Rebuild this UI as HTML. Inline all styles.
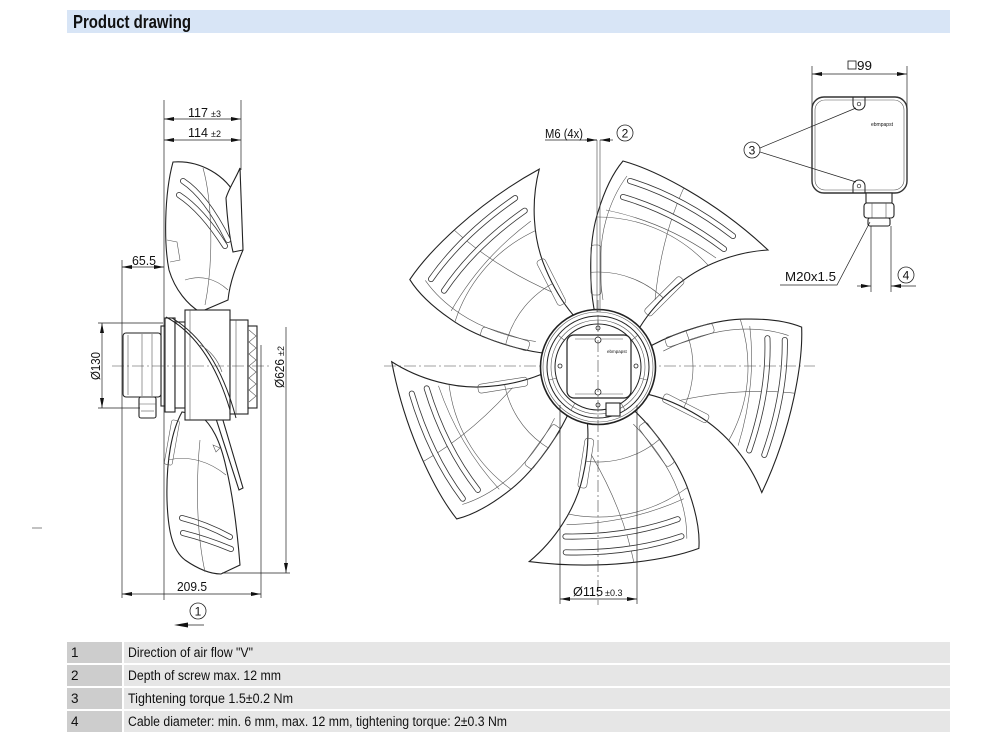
<!DOCTYPE html>
<html><head><meta charset="utf-8"><style>
html,body{margin:0;padding:0;background:#fff;}
svg{display:block;}
text{font-family:"Liberation Sans",Arial,sans-serif;fill:#111;}
.o{fill:#fff;stroke:#222;stroke-width:1.1;}
.n{fill:none;stroke:#222;stroke-width:1;}
.t{fill:none;stroke:#555;stroke-width:.6;}
.d{fill:none;stroke:#222;stroke-width:.7;}
.c{fill:none;stroke:#444;stroke-width:.6;stroke-dasharray:12 3 2 3;}
</style></head><body>
<svg width="1000" height="750" viewBox="0 0 1000 750" xmlns="http://www.w3.org/2000/svg">
<defs>
<marker id="ar" viewBox="0 0 10 4" refX="10" refY="2" markerWidth="10" markerHeight="4" markerUnits="userSpaceOnUse" orient="auto-start-reverse"><path d="M0,0L10,2L0,4z" fill="#111"/></marker>
<clipPath id="bc"><path d="M594,309 C589,280 589,240 598,212 C604,192 612,174 623,161 C655,170 715,200 768,250 C735,252 700,265 675,287 C660,300 648,314 640,327 Z"/></clipPath>
<g id="blade">
 <path class="o" d="M594,309 C589,280 589,240 598,212 C604,192 612,174 623,161 C655,170 715,200 768,250 C735,252 700,265 675,287 C660,300 648,314 640,327 Z"/>
 <g clip-path="url(#bc)">
  <circle class="t" cx="598" cy="367" r="95"/>
  <circle class="t" cx="598" cy="367" r="150"/>
  <path class="t" d="M606,210 Q665,222 716,258"/>
  <path class="t" d="M603,300 C599,275 599,245 606,220 C611,202 618,188 627,176"/>
  <path class="t" d="M690,175 C672,210 660,250 655,300"/>
 </g>
 <path d="M630,181 Q682,197 733,236" fill="none" stroke="#333" stroke-width="6" stroke-linecap="round"/>
 <path d="M630,181 Q682,197 733,236" fill="none" stroke="#fff" stroke-width="4.4" stroke-linecap="round"/>
 <path d="M623,197 Q675,212 724,249" fill="none" stroke="#333" stroke-width="6" stroke-linecap="round"/>
 <path d="M623,197 Q675,212 724,249" fill="none" stroke="#fff" stroke-width="4.4" stroke-linecap="round"/>
 <rect class="t" x="591" y="245" width="10" height="50" rx="3"/>
 <rect class="t" x="639" y="292" width="50" height="9" rx="3" transform="rotate(-45 664 296)"/>
</g>
</defs>

<!-- header -->
<rect x="67" y="10" width="883" height="23" fill="#d8e5f6"/>
<text x="73" y="28" font-size="18" font-weight="bold" textLength="118" lengthAdjust="spacingAndGlyphs">Product drawing</text>

<!-- ================= SIDE VIEW ================= -->
<path class="o" d="M173,162 C200,160 226,175 237,198 C241,215 242,235 243,250 C238,262 230,280 228,300 L200,312 C188,305 175,290 169,270 C164,245 164,195 173,162 Z"/>
<path class="o" d="M240,168 C236,178 229,188 226,198 C227,215 229,235 233,252 L243,250 C242,220 241,190 240,168 Z"/>
<path d="M183,181 Q206,196 228,240" fill="none" stroke="#333" stroke-width="6" stroke-linecap="round"/>
<path d="M183,181 Q206,196 228,240" fill="none" stroke="#fff" stroke-width="4.4" stroke-linecap="round"/>
<path d="M179,195 Q202,210 225,246" fill="none" stroke="#333" stroke-width="6" stroke-linecap="round"/>
<path d="M179,195 Q202,210 225,246" fill="none" stroke="#fff" stroke-width="4.4" stroke-linecap="round"/>
<path class="t" d="M203,168 C212,200 214,260 205,305"/>
<path class="t" d="M167,240 L177,242 L180,260 L170,262"/>
<path class="t" d="M185,280 C200,275 215,278 228,290"/>
<path class="o" d="M182,412 C172,430 166,460 167,500 C168,530 172,550 185,560 C198,569 210,574 221,574 L240,565 C238,540 234,500 226,467 C220,440 212,425 200,415 Z"/>
<path d="M182,518 Q206,524 230,537" fill="none" stroke="#333" stroke-width="6" stroke-linecap="round"/>
<path d="M182,518 Q206,524 230,537" fill="none" stroke="#fff" stroke-width="4.4" stroke-linecap="round"/>
<path d="M183,533 Q207,539 231,549" fill="none" stroke="#333" stroke-width="6" stroke-linecap="round"/>
<path d="M183,533 Q207,539 231,549" fill="none" stroke="#fff" stroke-width="4.4" stroke-linecap="round"/>
<path class="t" d="M168,460 C190,455 210,462 226,475"/>
<path class="t" d="M200,440 C196,480 196,530 205,572"/>
<rect class="t" x="168" y="420" width="8" height="45" rx="2" transform="rotate(10 172 442)"/>
<path class="o" d="M210,400 L217,400 L243,488 L239,490 Z"/>
<path class="t" d="M213,445 L220,448 L216,452 Z"/>
<rect class="o" x="161" y="326" width="5" height="80"/>
<rect class="o" x="123" y="333" width="38" height="64" rx="3"/>
<line class="t" x1="128" y1="335" x2="128" y2="395"/>
<line class="t" x1="142" y1="334" x2="142" y2="396"/>
<line class="t" x1="152" y1="334" x2="152" y2="396"/>
<rect class="o" x="139" y="397" width="17" height="21" rx="2"/>
<line class="t" x1="139" y1="404" x2="156" y2="404"/>
<line class="t" x1="141" y1="411" x2="154" y2="411"/>
<rect class="o" x="165" y="318" width="10" height="94"/>
<rect class="o" x="175" y="322" width="10" height="86"/>
<rect class="o" x="185" y="310" width="45" height="110"/>
<line class="t" x1="190" y1="310" x2="190" y2="420"/>
<rect class="o" x="230" y="320" width="18" height="94"/>
<line class="t" x1="236" y1="320" x2="236" y2="414"/>
<rect class="o" x="248" y="326" width="9" height="82"/>
<path class="t" d="M249,330 L256,336 L249,342 L256,348 L249,354 L256,360 L249,366 L256,372 L249,378 L256,384 L249,390 L256,396 L249,402"/>
<path class="n" d="M166,317 C190,330 214,356 230,410" stroke-width="1.6"/>
<path class="n" d="M172,318 C200,335 222,365 236,418"/>
<path class="t" d="M200,345 C210,350 218,360 222,372"/>
<line class="c" x1="112" y1="366" x2="272" y2="366"/>
<line class="d" x1="164" y1="100" x2="164" y2="600"/>
<line class="d" x1="241" y1="100" x2="241" y2="170"/>
<line class="d" x1="164" y1="119" x2="241" y2="119" marker-start="url(#ar)" marker-end="url(#ar)"/>
<text x="188" y="117" font-size="13" textLength="20" lengthAdjust="spacingAndGlyphs">117</text>
<text x="211" y="117" font-size="9">±3</text>
<line class="d" x1="164" y1="140" x2="241" y2="140" marker-start="url(#ar)" marker-end="url(#ar)"/>
<text x="188" y="137" font-size="13" textLength="20" lengthAdjust="spacingAndGlyphs">114</text>
<text x="211" y="137" font-size="9">±2</text>
<line class="d" x1="122" y1="260" x2="122" y2="598"/>
<line class="d" x1="122" y1="267" x2="164" y2="267" marker-start="url(#ar)" marker-end="url(#ar)"/>
<text x="132" y="265" font-size="13" textLength="24" lengthAdjust="spacingAndGlyphs">65.5</text>
<line class="d" x1="98" y1="323" x2="163" y2="323"/>
<line class="d" x1="98" y1="408" x2="140" y2="408"/>
<line class="d" x1="102" y1="323" x2="102" y2="408" marker-start="url(#ar)" marker-end="url(#ar)"/>
<text x="100" y="366" font-size="13" text-anchor="middle" transform="rotate(-90 100 366)" textLength="28" lengthAdjust="spacingAndGlyphs">Ø130</text>
<line class="d" x1="286" y1="327" x2="286" y2="573" marker-end="url(#ar)"/>
<line class="d" x1="222" y1="573" x2="290" y2="573"/>
<text x="284" y="388" font-size="13" transform="rotate(-90 284 388)" textLength="29" lengthAdjust="spacingAndGlyphs">Ø626</text>
<text x="284" y="356" font-size="9" transform="rotate(-90 284 356)">±2</text>
<line class="d" x1="261" y1="345" x2="261" y2="598"/>
<line class="d" x1="122" y1="594" x2="261" y2="594" marker-start="url(#ar)" marker-end="url(#ar)"/>
<text x="177" y="591" font-size="13" textLength="30" lengthAdjust="spacingAndGlyphs">209.5</text>
<circle cx="198" cy="611" r="8" fill="#fff" stroke="#222" stroke-width=".8"/>
<text x="198" y="615.5" font-size="12" text-anchor="middle">1</text>
<line x1="186" y1="625" x2="204" y2="625" stroke="#222" stroke-width=".8"/>
<path d="M174,625 L188,622.5 L188,627.5 Z" fill="#111"/>
<line x1="32" y1="528" x2="42" y2="528" stroke="#666" stroke-width=".8"/>

<!-- ================= FRONT VIEW ================= -->
<use href="#blade"/>
<use href="#blade" transform="rotate(72 598 367)"/>
<use href="#blade" transform="rotate(144 598 367)"/>
<use href="#blade" transform="rotate(216 598 367)"/>
<use href="#blade" transform="rotate(288 598 367)"/>
<line class="c" x1="384" y1="366" x2="815" y2="366"/>
<circle cx="598" cy="367" r="57.5" fill="#fff" stroke="#222" stroke-width="1.6"/>
<circle class="t" cx="598" cy="367" r="55"/>
<circle class="n" cx="598" cy="367" r="51" stroke-width="1.2"/>
<circle class="t" cx="598" cy="367" r="47"/>
<circle class="n" cx="598" cy="367" r="43"/>
<g class="t">
<line x1="598" y1="316" x2="598" y2="324"/>
<line x1="638" y1="335" x2="632" y2="340"/>
<line x1="647" y1="380" x2="639" y2="378"/>
<line x1="625" y1="410" x2="621" y2="403"/>
<line x1="571" y1="410" x2="575" y2="403"/>
<line x1="549" y1="380" x2="557" y2="378"/>
<line x1="558" y1="335" x2="564" y2="340"/>
</g>
<rect x="567" y="335" width="64" height="63" rx="7" fill="#fff" stroke="#222" stroke-width="1.2"/>
<line class="t" x1="575" y1="339" x2="623" y2="339"/>
<line class="t" x1="575" y1="394" x2="623" y2="394"/>
<circle cx="598" cy="340" r="3" fill="#fff" stroke="#222" stroke-width=".8"/>
<circle cx="598" cy="392" r="3" fill="#fff" stroke="#222" stroke-width=".8"/>
<circle cx="598" cy="328" r="2" fill="#fff" stroke="#222" stroke-width=".8"/>
<circle cx="598" cy="405" r="2" fill="#fff" stroke="#222" stroke-width=".8"/>
<circle cx="560" cy="366" r="2" fill="#fff" stroke="#222" stroke-width=".8"/>
<circle cx="636" cy="366" r="2" fill="#fff" stroke="#222" stroke-width=".8"/>
<rect class="o" x="606" y="403" width="14" height="13" stroke-width=".8"/>
<text x="607" y="353" font-size="4.5" fill="#333">ebmpapst</text>
<line class="c" x1="598" y1="300" x2="598" y2="605"/>
<line x1="597" y1="140" x2="597" y2="312" stroke="#444" stroke-width=".6"/>
<line x1="600" y1="140" x2="600" y2="312" stroke="#444" stroke-width=".6"/>
<line class="d" x1="545" y1="140" x2="597" y2="140"/>
<line class="d" x1="585" y1="140" x2="597" y2="140" marker-end="url(#ar)"/>
<line class="d" x1="613" y1="140" x2="600" y2="140" marker-end="url(#ar)"/>
<text x="545" y="138" font-size="13" textLength="38" lengthAdjust="spacingAndGlyphs">M6 (4x)</text>
<circle cx="625" cy="133" r="8" fill="#fff" stroke="#222" stroke-width=".8"/>
<text x="625" y="137.5" font-size="12" text-anchor="middle">2</text>
<line class="d" x1="560" y1="405" x2="560" y2="604"/>
<line class="d" x1="637" y1="405" x2="637" y2="604"/>
<line class="d" x1="560" y1="599" x2="637" y2="599" marker-start="url(#ar)" marker-end="url(#ar)"/>
<text x="573" y="596" font-size="13" textLength="30" lengthAdjust="spacingAndGlyphs">Ø115</text>
<text x="605" y="596" font-size="9">±0.3</text>

<!-- ================= TERMINAL BOX ================= -->
<line class="d" x1="812" y1="66" x2="812" y2="150"/>
<line class="d" x1="907" y1="66" x2="907" y2="150"/>
<line class="d" x1="812" y1="74" x2="907" y2="74" marker-start="url(#ar)" marker-end="url(#ar)"/>
<rect x="848" y="61" width="8" height="8" fill="none" stroke="#111" stroke-width=".8"/>
<text x="857" y="70" font-size="13" textLength="15" lengthAdjust="spacingAndGlyphs">99</text>
<rect x="812" y="97" width="95" height="96" rx="12" fill="#fff" stroke="#333" stroke-width="1.4"/>
<rect class="t" x="815" y="100" width="89" height="90" rx="10"/>
<path class="n" d="M853,97 L853,104 A6,6 0 0 0 865,104 L865,97" stroke-width=".8"/>
<circle cx="859" cy="104" r="1.8" fill="none" stroke="#222" stroke-width=".7"/>
<path class="n" d="M853,193 L853,186 A6,6 0 0 1 865,186 L865,193" stroke-width=".8"/>
<circle cx="859" cy="186" r="1.8" fill="none" stroke="#222" stroke-width=".7"/>
<text x="871" y="126" font-size="5" fill="#333">ebmpapst</text>
<circle cx="752" cy="150" r="8" fill="#fff" stroke="#222" stroke-width=".8"/>
<text x="752" y="154.5" font-size="12" text-anchor="middle">3</text>
<line class="d" x1="760" y1="148" x2="856" y2="108"/>
<line class="d" x1="760" y1="152" x2="856" y2="182"/>
<rect class="o" x="866" y="193" width="26" height="10" stroke-width=".8"/>
<rect class="o" x="864" y="203" width="30" height="15" rx="3" stroke-width=".8"/>
<line class="t" x1="872" y1="203" x2="872" y2="218"/>
<line class="t" x1="886" y1="203" x2="886" y2="218"/>
<rect class="o" x="868" y="218" width="22" height="8" rx="2" stroke-width=".8"/>
<line class="d" x1="871" y1="226" x2="871" y2="292"/>
<line class="d" x1="891" y1="226" x2="891" y2="292"/>
<line class="d" x1="857" y1="286" x2="871" y2="286" marker-end="url(#ar)"/>
<line class="d" x1="916" y1="286" x2="891" y2="286" marker-end="url(#ar)"/>
<circle cx="906" cy="275" r="8" fill="#fff" stroke="#222" stroke-width=".8"/>
<text x="906" y="279.5" font-size="12" text-anchor="middle">4</text>
<text x="785" y="281" font-size="13" textLength="51" lengthAdjust="spacingAndGlyphs">M20x1.5</text>
<polyline class="d" points="780,285 837,285 870,222"/>

<!-- ================= TABLE ================= -->
<rect x="67" y="642" width="55" height="21" fill="#cdcdcd"/>
<rect x="124" y="642" width="826" height="21" fill="#e6e6e6"/>
<rect x="67" y="665" width="55" height="21" fill="#cdcdcd"/>
<rect x="124" y="665" width="826" height="21" fill="#e6e6e6"/>
<rect x="67" y="688" width="55" height="21" fill="#cdcdcd"/>
<rect x="124" y="688" width="826" height="21" fill="#e6e6e6"/>
<rect x="67" y="711" width="55" height="21" fill="#cdcdcd"/>
<rect x="124" y="711" width="826" height="21" fill="#e6e6e6"/>
<g font-size="13.5" fill="#1a1a1a">
<text x="71" y="657">1</text>
<text x="128" y="657" textLength="125" lengthAdjust="spacingAndGlyphs">Direction of air flow "V"</text>
<text x="71" y="680">2</text>
<text x="128" y="680" textLength="153" lengthAdjust="spacingAndGlyphs">Depth of screw max. 12 mm</text>
<text x="71" y="703">3</text>
<text x="128" y="703" textLength="165" lengthAdjust="spacingAndGlyphs">Tightening torque 1.5±0.2 Nm</text>
<text x="71" y="726">4</text>
<text x="128" y="726" textLength="379" lengthAdjust="spacingAndGlyphs">Cable diameter: min. 6 mm, max. 12 mm, tightening torque: 2±0.3 Nm</text>
</g>
</svg>
</body></html>
